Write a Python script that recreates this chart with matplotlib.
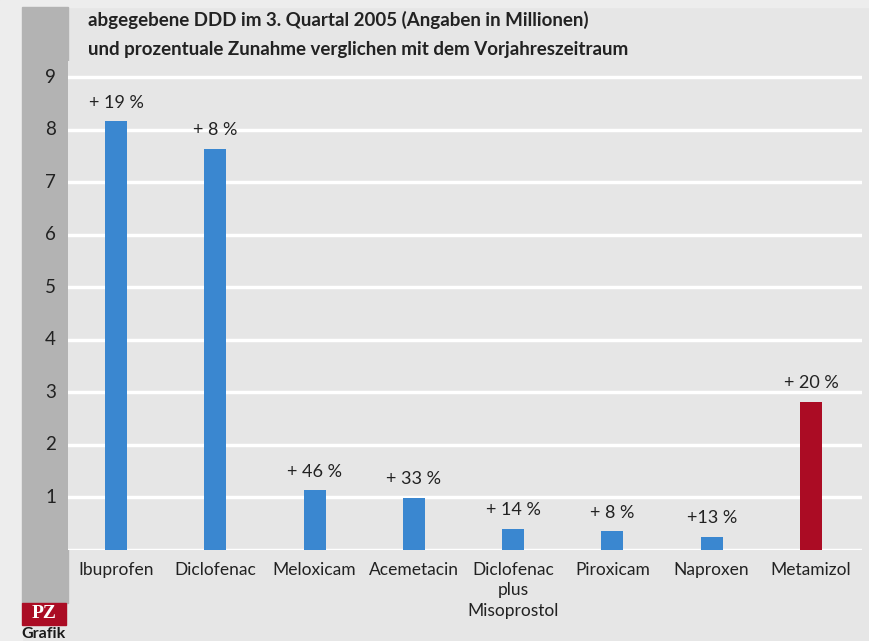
import matplotlib.pyplot as plt
from matplotlib.patches import Rectangle

# data
wirkstoffe = ['Ibuprofen', 'Diclofenac', 'Meloxicam', 'Acemetacin',
              'Diclofenac\nplus\nMisoprostol', 'Piroxicam', 'Naproxen', 'Metamizol']
ddd_mio = [8.16, 7.63, 1.14, 0.99, 0.40, 0.36, 0.25, 2.82]
zunahme = ['+ 19 %', '+ 8 %', '+ 46 %', '+ 33 %', '+ 14 %', '+ 8 %', '+13 %', '+ 20 %']
farben = ['#3a87d0'] * 7 + ['#ab0c24']
yticks = [1, 2, 3, 4, 5, 6, 7, 8, 9]

plt.rcParams['font.family'] = ['Lato', 'DejaVu Sans']

W, H = 869, 641
fig = plt.figure(figsize=(W / 100, H / 100), dpi=100)
fig.patch.set_facecolor('#e6e6e6')

# rahmen / streifen
fig.patches.append(Rectangle((0, 0), 22 / W, 1, transform=fig.transFigure,
                             color='#ededed', zorder=0))
fig.patches.append(Rectangle((0, 1 - 7 / H), 1, 7 / H, transform=fig.transFigure,
                             color='#ededed', zorder=0))
fig.patches.append(Rectangle((22 / W, 1 - 603 / H), 46 / W, (603 - 7) / H,
                             transform=fig.transFigure, color='#b3b3b3', zorder=0))
# PZ logo
fig.patches.append(Rectangle((22 / W, 1 - 625 / H), 44 / W, 22 / H, transform=fig.transFigure,
                             color='#ab0c24', zorder=1))
fig.text(44 / W, 1 - 614 / H, 'PZ', color='white', fontsize=14, fontweight='bold',
         family='Liberation Serif', ha='center', va='center')
fig.text(44 / W, 1 - 634 / H, 'Grafik', color='#1a1a1a', fontsize=11.5, fontweight='bold',
         ha='center', va='center')

y0 = 550
unit = (550 - 77) / 9
ax_w = 862 - 68
ax = fig.add_axes([68 / W, 1 - y0 / H, ax_w / W, 9.3 * unit / H])
ax.set_zorder(2)
ax.set_facecolor('#e6e6e6')
ax.set_xlim(-0.485, 7.515)
ax.set_ylim(0, 9.3)

for v in [0] + yticks:
    ax.axhline(v, color='white', lw=2.5, zorder=1)

x = range(len(wirkstoffe))
ax.bar(x, ddd_mio, width=0.22, color=farben, zorder=2)

for i, v in enumerate(ddd_mio):
    ax.text(i, v + 0.2, zunahme[i], ha='center', va='bottom', fontsize=13,
            color='#222222', zorder=3)

for i, name in enumerate(wirkstoffe):
    ax.text(i, -0.22, name, ha='center', va='top', fontsize=12.5,
            color='#222222', linespacing=1.35)

for v in yticks:
    ax.text(-12 / ax_w, v, str(v), transform=ax.get_yaxis_transform(), ha='right',
            va='center', fontsize=13.5, color='#222222')

ax.set_xticks([])
ax.set_yticks([])
for s in ax.spines.values():
    s.set_visible(False)

fig.text(88 / W, 1 - 20 / H, 'abgegebene DDD im 3. Quartal 2005 (Angaben in Millionen)',
         fontsize=13.5, fontweight='bold', color='#222222', va='center')
fig.text(88 / W, 1 - 50 / H, 'und prozentuale Zunahme verglichen mit dem Vorjahreszeitraum',
         fontsize=13.5, fontweight='bold', color='#222222', va='center')

fig.savefig('out.png', dpi=100, facecolor=fig.get_facecolor())
